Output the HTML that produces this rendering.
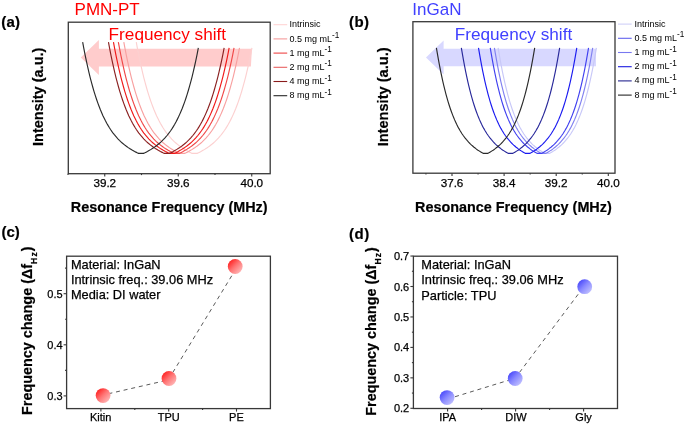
<!DOCTYPE html>
<html><head><meta charset="utf-8"><style>
html,body{margin:0;padding:0;background:#fff;}
body{width:685px;height:427px;overflow:hidden;}
svg{display:block;will-change:transform;}
text{font-family:"Liberation Sans", sans-serif;}
.rg{stroke:#000;stroke-width:0.25px;}
.bd{stroke:#000;stroke-width:0.2px;}
</style></head><body>
<svg width="685" height="427" viewBox="0 0 685 427">
<rect width="685" height="427" fill="#fff"/>

<path d="M80.8,57.6 L98.9,40.1 L98.9,48.75 L251.9,48.75 L250.9,66.45 L98.9,66.45 L98.9,75.1 Z" fill="#ffcccc"/>
<text x="108.6" y="39.5" font-size="17.2" fill="#ff0000">Frequency shift</text>
<text x="74.6" y="14.8" font-size="17" fill="#ff0000">PMN-PT</text>
<text x="1.2" y="26.7" font-size="15" font-weight="bold" class="bd" letter-spacing="0.3" fill="#000">(a)</text>
<path d="M136.26,42.20 L137.52,48.98 L138.79,55.40 L140.06,61.48 L141.33,67.24 L142.59,72.68 L143.86,77.82 L145.13,82.68 L146.40,87.27 L147.66,91.60 L148.93,95.68 L150.20,99.53 L151.47,103.15 L152.74,106.56 L154.00,109.77 L155.27,112.79 L156.54,115.64 L157.81,118.31 L159.07,120.82 L160.34,123.19 L161.61,125.41 L162.88,127.50 L164.14,129.46 L165.41,131.31 L166.68,133.04 L167.95,134.68 L169.21,136.22 L170.48,137.67 L171.75,139.04 L173.02,140.33 L174.28,141.55 L175.55,142.71 L176.82,143.80 L178.09,144.83 L179.35,145.82 L180.62,146.75 L181.89,147.64 L183.16,148.48 L184.43,149.28 L185.69,150.05 L186.96,150.77 L188.23,151.47 L189.50,152.13 L190.76,152.76 L192.03,153.35 L197.23,153.35 L198.47,152.77 L199.72,152.15 L200.96,151.51 L202.20,150.83 L203.45,150.12 L204.69,149.37 L205.93,148.59 L207.18,147.77 L208.42,146.90 L209.67,146.00 L210.91,145.04 L212.15,144.04 L213.40,142.98 L214.64,141.87 L215.88,140.69 L217.13,139.44 L218.37,138.12 L219.61,136.73 L220.86,135.25 L222.10,133.68 L223.34,132.01 L224.59,130.25 L225.83,128.37 L227.07,126.38 L228.32,124.26 L229.56,122.01 L230.80,119.62 L232.05,117.08 L233.29,114.38 L234.53,111.52 L235.78,108.48 L237.02,105.25 L238.27,101.83 L239.51,98.19 L240.75,94.34 L242.00,90.26 L243.24,85.94 L244.48,81.37 L245.73,76.53 L246.97,71.41 L248.21,66.00 L249.46,60.29 L250.70,54.26 L251.94,47.90" fill="none" stroke="#fcd0d0" stroke-width="1.15"/>
<path d="M123.81,42.20 L125.07,48.98 L126.34,55.40 L127.61,61.48 L128.88,67.24 L130.14,72.68 L131.41,77.82 L132.68,82.68 L133.95,87.27 L135.21,91.60 L136.48,95.68 L137.75,99.53 L139.02,103.15 L140.29,106.56 L141.55,109.77 L142.82,112.79 L144.09,115.64 L145.36,118.31 L146.62,120.82 L147.89,123.19 L149.16,125.41 L150.43,127.50 L151.69,129.46 L152.96,131.31 L154.23,133.04 L155.50,134.68 L156.76,136.22 L158.03,137.67 L159.30,139.04 L160.57,140.33 L161.83,141.55 L163.10,142.71 L164.37,143.80 L165.64,144.83 L166.90,145.82 L168.17,146.75 L169.44,147.64 L170.71,148.48 L171.98,149.28 L173.24,150.05 L174.51,150.77 L175.78,151.47 L177.05,152.13 L178.31,152.76 L179.58,153.35 L184.78,153.35 L186.02,152.77 L187.27,152.15 L188.51,151.51 L189.75,150.83 L191.00,150.12 L192.24,149.37 L193.48,148.59 L194.73,147.77 L195.97,146.90 L197.22,146.00 L198.46,145.04 L199.70,144.04 L200.95,142.98 L202.19,141.87 L203.43,140.69 L204.68,139.44 L205.92,138.12 L207.16,136.73 L208.41,135.25 L209.65,133.68 L210.89,132.01 L212.14,130.25 L213.38,128.37 L214.62,126.38 L215.87,124.26 L217.11,122.01 L218.35,119.62 L219.60,117.08 L220.84,114.38 L222.08,111.52 L223.33,108.48 L224.57,105.25 L225.82,101.83 L227.06,98.19 L228.30,94.34 L229.55,90.26 L230.79,85.94 L232.03,81.37 L233.28,76.53 L234.52,71.41 L235.76,66.00 L237.01,60.29 L238.25,54.26 L239.49,47.90" fill="none" stroke="#f8a0a0" stroke-width="1.15"/>
<path d="M118.36,42.20 L119.62,48.98 L120.89,55.40 L122.16,61.48 L123.43,67.24 L124.69,72.68 L125.96,77.82 L127.23,82.68 L128.50,87.27 L129.76,91.60 L131.03,95.68 L132.30,99.53 L133.57,103.15 L134.84,106.56 L136.10,109.77 L137.37,112.79 L138.64,115.64 L139.91,118.31 L141.17,120.82 L142.44,123.19 L143.71,125.41 L144.98,127.50 L146.24,129.46 L147.51,131.31 L148.78,133.04 L150.05,134.68 L151.31,136.22 L152.58,137.67 L153.85,139.04 L155.12,140.33 L156.38,141.55 L157.65,142.71 L158.92,143.80 L160.19,144.83 L161.45,145.82 L162.72,146.75 L163.99,147.64 L165.26,148.48 L166.53,149.28 L167.79,150.05 L169.06,150.77 L170.33,151.47 L171.60,152.13 L172.86,152.76 L174.13,153.35 L179.33,153.35 L180.57,152.77 L181.82,152.15 L183.06,151.51 L184.30,150.83 L185.55,150.12 L186.79,149.37 L188.03,148.59 L189.28,147.77 L190.52,146.90 L191.77,146.00 L193.01,145.04 L194.25,144.04 L195.50,142.98 L196.74,141.87 L197.98,140.69 L199.23,139.44 L200.47,138.12 L201.71,136.73 L202.96,135.25 L204.20,133.68 L205.44,132.01 L206.69,130.25 L207.93,128.37 L209.17,126.38 L210.42,124.26 L211.66,122.01 L212.90,119.62 L214.15,117.08 L215.39,114.38 L216.63,111.52 L217.88,108.48 L219.12,105.25 L220.37,101.83 L221.61,98.19 L222.85,94.34 L224.10,90.26 L225.34,85.94 L226.58,81.37 L227.83,76.53 L229.07,71.41 L230.31,66.00 L231.56,60.29 L232.80,54.26 L234.04,47.90" fill="none" stroke="#f04848" stroke-width="1.15"/>
<path d="M113.46,42.20 L114.72,48.98 L115.99,55.40 L117.26,61.48 L118.53,67.24 L119.79,72.68 L121.06,77.82 L122.33,82.68 L123.60,87.27 L124.86,91.60 L126.13,95.68 L127.40,99.53 L128.67,103.15 L129.94,106.56 L131.20,109.77 L132.47,112.79 L133.74,115.64 L135.01,118.31 L136.27,120.82 L137.54,123.19 L138.81,125.41 L140.08,127.50 L141.34,129.46 L142.61,131.31 L143.88,133.04 L145.15,134.68 L146.41,136.22 L147.68,137.67 L148.95,139.04 L150.22,140.33 L151.48,141.55 L152.75,142.71 L154.02,143.80 L155.29,144.83 L156.55,145.82 L157.82,146.75 L159.09,147.64 L160.36,148.48 L161.63,149.28 L162.89,150.05 L164.16,150.77 L165.43,151.47 L166.70,152.13 L167.96,152.76 L169.23,153.35 L174.43,153.35 L175.67,152.77 L176.92,152.15 L178.16,151.51 L179.40,150.83 L180.65,150.12 L181.89,149.37 L183.13,148.59 L184.38,147.77 L185.62,146.90 L186.87,146.00 L188.11,145.04 L189.35,144.04 L190.60,142.98 L191.84,141.87 L193.08,140.69 L194.33,139.44 L195.57,138.12 L196.81,136.73 L198.06,135.25 L199.30,133.68 L200.54,132.01 L201.79,130.25 L203.03,128.37 L204.27,126.38 L205.52,124.26 L206.76,122.01 L208.00,119.62 L209.25,117.08 L210.49,114.38 L211.73,111.52 L212.98,108.48 L214.22,105.25 L215.47,101.83 L216.71,98.19 L217.95,94.34 L219.20,90.26 L220.44,85.94 L221.68,81.37 L222.93,76.53 L224.17,71.41 L225.41,66.00 L226.66,60.29 L227.90,54.26 L229.14,47.90" fill="none" stroke="#f01818" stroke-width="1.15"/>
<path d="M108.46,42.20 L109.72,48.98 L110.99,55.40 L112.26,61.48 L113.53,67.24 L114.79,72.68 L116.06,77.82 L117.33,82.68 L118.60,87.27 L119.86,91.60 L121.13,95.68 L122.40,99.53 L123.67,103.15 L124.94,106.56 L126.20,109.77 L127.47,112.79 L128.74,115.64 L130.01,118.31 L131.27,120.82 L132.54,123.19 L133.81,125.41 L135.08,127.50 L136.34,129.46 L137.61,131.31 L138.88,133.04 L140.15,134.68 L141.41,136.22 L142.68,137.67 L143.95,139.04 L145.22,140.33 L146.48,141.55 L147.75,142.71 L149.02,143.80 L150.29,144.83 L151.55,145.82 L152.82,146.75 L154.09,147.64 L155.36,148.48 L156.63,149.28 L157.89,150.05 L159.16,150.77 L160.43,151.47 L161.70,152.13 L162.96,152.76 L164.23,153.35 L169.43,153.35 L170.67,152.77 L171.92,152.15 L173.16,151.51 L174.40,150.83 L175.65,150.12 L176.89,149.37 L178.13,148.59 L179.38,147.77 L180.62,146.90 L181.87,146.00 L183.11,145.04 L184.35,144.04 L185.60,142.98 L186.84,141.87 L188.08,140.69 L189.33,139.44 L190.57,138.12 L191.81,136.73 L193.06,135.25 L194.30,133.68 L195.54,132.01 L196.79,130.25 L198.03,128.37 L199.27,126.38 L200.52,124.26 L201.76,122.01 L203.00,119.62 L204.25,117.08 L205.49,114.38 L206.73,111.52 L207.98,108.48 L209.22,105.25 L210.47,101.83 L211.71,98.19 L212.95,94.34 L214.20,90.26 L215.44,85.94 L216.68,81.37 L217.93,76.53 L219.17,71.41 L220.41,66.00 L221.66,60.29 L222.90,54.26 L224.14,47.90" fill="none" stroke="#8a2020" stroke-width="1.15"/>
<path d="M82.66,42.20 L83.92,48.98 L85.19,55.40 L86.46,61.48 L87.73,67.24 L88.99,72.68 L90.26,77.82 L91.53,82.68 L92.80,87.27 L94.06,91.60 L95.33,95.68 L96.60,99.53 L97.87,103.15 L99.14,106.56 L100.40,109.77 L101.67,112.79 L102.94,115.64 L104.21,118.31 L105.47,120.82 L106.74,123.19 L108.01,125.41 L109.28,127.50 L110.54,129.46 L111.81,131.31 L113.08,133.04 L114.35,134.68 L115.61,136.22 L116.88,137.67 L118.15,139.04 L119.42,140.33 L120.68,141.55 L121.95,142.71 L123.22,143.80 L124.49,144.83 L125.75,145.82 L127.02,146.75 L128.29,147.64 L129.56,148.48 L130.83,149.28 L132.09,150.05 L133.36,150.77 L134.63,151.47 L135.90,152.13 L137.16,152.76 L138.43,153.35 L143.63,153.35 L144.87,152.77 L146.12,152.15 L147.36,151.51 L148.60,150.83 L149.85,150.12 L151.09,149.37 L152.33,148.59 L153.58,147.77 L154.82,146.90 L156.07,146.00 L157.31,145.04 L158.55,144.04 L159.80,142.98 L161.04,141.87 L162.28,140.69 L163.53,139.44 L164.77,138.12 L166.01,136.73 L167.26,135.25 L168.50,133.68 L169.74,132.01 L170.99,130.25 L172.23,128.37 L173.47,126.38 L174.72,124.26 L175.96,122.01 L177.20,119.62 L178.45,117.08 L179.69,114.38 L180.93,111.52 L182.18,108.48 L183.42,105.25 L184.67,101.83 L185.91,98.19 L187.15,94.34 L188.40,90.26 L189.64,85.94 L190.88,81.37 L192.13,76.53 L193.37,71.41 L194.61,66.00 L195.86,60.29 L197.10,54.26 L198.34,47.90" fill="none" stroke="#2a2a2a" stroke-width="1.15"/>
<rect x="68.3" y="22.2" width="201.89999999999998" height="151.5" fill="none" stroke="#383838" stroke-width="1.3"/>
<line x1="68.00" y1="173.7" x2="68.00" y2="175.1" stroke="#383838" stroke-width="1.1"/>
<line x1="104.75" y1="173.7" x2="104.75" y2="176.5" stroke="#383838" stroke-width="1.1"/>
<line x1="141.50" y1="173.7" x2="141.50" y2="175.1" stroke="#383838" stroke-width="1.1"/>
<line x1="178.25" y1="173.7" x2="178.25" y2="176.5" stroke="#383838" stroke-width="1.1"/>
<line x1="215.00" y1="173.7" x2="215.00" y2="175.1" stroke="#383838" stroke-width="1.1"/>
<line x1="251.75" y1="173.7" x2="251.75" y2="176.5" stroke="#383838" stroke-width="1.1"/>
<text class="rg" x="104.75" y="187.2" font-size="11.7" text-anchor="middle" fill="#000">39.2</text>
<text class="rg" x="178.25" y="187.2" font-size="11.7" text-anchor="middle" fill="#000">39.6</text>
<text class="rg" x="251.75" y="187.2" font-size="11.7" text-anchor="middle" fill="#000">40.0</text>
<text x="169.2" y="211.6" font-size="14.4" font-weight="bold" text-anchor="middle" fill="#000" class="bd">Resonance Frequency (MHz)</text>
<text transform="translate(42.7,96.8) rotate(-90)" font-size="14.5" font-weight="bold" text-anchor="middle" fill="#000" class="bd">Intensity (a.u.)</text>
<line x1="273.5" y1="24.70" x2="287.2" y2="24.70" stroke="#ffd4d4" stroke-width="1.1"/>
<text x="289.4" y="27.30" font-size="9" fill="#000">Intrinsic</text>
<line x1="273.5" y1="38.90" x2="287.2" y2="38.90" stroke="#f59a9a" stroke-width="1.1"/>
<text x="289.4" y="41.50" font-size="9" fill="#000">0.5 mg mL<tspan font-size="8.2" dy="-3.5">-1</tspan></text>
<line x1="273.5" y1="53.10" x2="287.2" y2="53.10" stroke="#ee4444" stroke-width="1.1"/>
<text x="289.4" y="55.70" font-size="9" fill="#000">1 mg mL<tspan font-size="8.2" dy="-3.5">-1</tspan></text>
<line x1="273.5" y1="67.30" x2="287.2" y2="67.30" stroke="#e86060" stroke-width="1.1"/>
<text x="289.4" y="69.90" font-size="9" fill="#000">2 mg mL<tspan font-size="8.2" dy="-3.5">-1</tspan></text>
<line x1="273.5" y1="81.50" x2="287.2" y2="81.50" stroke="#8a1c1c" stroke-width="1.1"/>
<text x="289.4" y="84.10" font-size="9" fill="#000">4 mg mL<tspan font-size="8.2" dy="-3.5">-1</tspan></text>
<line x1="273.5" y1="95.70" x2="287.2" y2="95.70" stroke="#262626" stroke-width="1.1"/>
<text x="289.4" y="98.30" font-size="9" fill="#000">8 mg mL<tspan font-size="8.2" dy="-3.5">-1</tspan></text>
<path d="M426.0,57.5 L443.6,40.5 L443.6,48.8 L596.0,48.8 L596.0,66.2 L443.6,66.2 L443.6,74.5 Z" fill="#d8d8ff"/>
<text x="454.7" y="39.7" font-size="17.2" fill="#4040ff">Frequency shift</text>
<text x="412.3" y="14.8" font-size="17" fill="#4040ff">InGaN</text>
<text x="348.9" y="26.6" font-size="15" font-weight="bold" class="bd" letter-spacing="0.5" fill="#000">(b)</text>
<path d="M498.10,47.80 L499.17,54.17 L500.23,60.21 L501.30,65.93 L502.37,71.35 L503.43,76.47 L504.50,81.32 L505.56,85.90 L506.63,90.23 L507.70,94.32 L508.76,98.18 L509.83,101.82 L510.90,105.25 L511.96,108.48 L513.03,111.52 L514.10,114.39 L515.16,117.09 L516.23,119.64 L517.30,122.03 L518.36,124.28 L519.43,126.40 L520.49,128.40 L521.56,130.28 L522.63,132.04 L523.69,133.71 L524.76,135.28 L525.83,136.76 L526.89,138.16 L527.96,139.48 L529.03,140.73 L530.09,141.91 L531.16,143.03 L532.22,144.08 L533.29,145.09 L534.36,146.04 L535.42,146.95 L536.49,147.81 L537.56,148.64 L538.62,149.42 L539.69,150.17 L540.76,150.88 L541.82,151.56 L542.89,152.20 L543.96,152.82 L545.02,153.40 L549.48,153.40 L550.54,152.82 L551.61,152.20 L552.68,151.56 L553.74,150.88 L554.81,150.17 L555.88,149.42 L556.94,148.64 L558.01,147.81 L559.08,146.95 L560.14,146.04 L561.21,145.09 L562.28,144.08 L563.34,143.03 L564.41,141.91 L565.47,140.73 L566.54,139.48 L567.61,138.16 L568.67,136.76 L569.74,135.28 L570.81,133.71 L571.87,132.04 L572.94,130.28 L574.01,128.40 L575.07,126.40 L576.14,124.28 L577.20,122.03 L578.27,119.64 L579.34,117.09 L580.40,114.39 L581.47,111.52 L582.54,108.48 L583.60,105.25 L584.67,101.82 L585.74,98.18 L586.80,94.32 L587.87,90.23 L588.94,85.90 L590.00,81.32 L591.07,76.47 L592.13,71.35 L593.20,65.93 L594.27,60.21 L595.33,54.17 L596.40,47.80" fill="none" stroke="#c8c8f8" stroke-width="1.15"/>
<path d="M494.40,47.80 L495.47,54.17 L496.53,60.21 L497.60,65.93 L498.67,71.35 L499.73,76.47 L500.80,81.32 L501.86,85.90 L502.93,90.23 L504.00,94.32 L505.06,98.18 L506.13,101.82 L507.20,105.25 L508.26,108.48 L509.33,111.52 L510.40,114.39 L511.46,117.09 L512.53,119.64 L513.60,122.03 L514.66,124.28 L515.73,126.40 L516.79,128.40 L517.86,130.28 L518.93,132.04 L519.99,133.71 L521.06,135.28 L522.13,136.76 L523.19,138.16 L524.26,139.48 L525.33,140.73 L526.39,141.91 L527.46,143.03 L528.52,144.08 L529.59,145.09 L530.66,146.04 L531.72,146.95 L532.79,147.81 L533.86,148.64 L534.92,149.42 L535.99,150.17 L537.06,150.88 L538.12,151.56 L539.19,152.20 L540.26,152.82 L541.32,153.40 L545.78,153.40 L546.84,152.82 L547.91,152.20 L548.98,151.56 L550.04,150.88 L551.11,150.17 L552.18,149.42 L553.24,148.64 L554.31,147.81 L555.38,146.95 L556.44,146.04 L557.51,145.09 L558.58,144.08 L559.64,143.03 L560.71,141.91 L561.77,140.73 L562.84,139.48 L563.91,138.16 L564.97,136.76 L566.04,135.28 L567.11,133.71 L568.17,132.04 L569.24,130.28 L570.31,128.40 L571.37,126.40 L572.44,124.28 L573.50,122.03 L574.57,119.64 L575.64,117.09 L576.70,114.39 L577.77,111.52 L578.84,108.48 L579.90,105.25 L580.97,101.82 L582.04,98.18 L583.10,94.32 L584.17,90.23 L585.24,85.90 L586.30,81.32 L587.37,76.47 L588.43,71.35 L589.50,65.93 L590.57,60.21 L591.63,54.17 L592.70,47.80" fill="none" stroke="#8080f0" stroke-width="1.15"/>
<path d="M490.25,47.80 L491.32,54.17 L492.38,60.21 L493.45,65.93 L494.52,71.35 L495.58,76.47 L496.65,81.32 L497.71,85.90 L498.78,90.23 L499.85,94.32 L500.91,98.18 L501.98,101.82 L503.05,105.25 L504.11,108.48 L505.18,111.52 L506.25,114.39 L507.31,117.09 L508.38,119.64 L509.45,122.03 L510.51,124.28 L511.58,126.40 L512.64,128.40 L513.71,130.28 L514.78,132.04 L515.84,133.71 L516.91,135.28 L517.98,136.76 L519.04,138.16 L520.11,139.48 L521.18,140.73 L522.24,141.91 L523.31,143.03 L524.37,144.08 L525.44,145.09 L526.51,146.04 L527.57,146.95 L528.64,147.81 L529.71,148.64 L530.77,149.42 L531.84,150.17 L532.91,150.88 L533.97,151.56 L535.04,152.20 L536.11,152.82 L537.17,153.40 L541.63,153.40 L542.69,152.82 L543.76,152.20 L544.83,151.56 L545.89,150.88 L546.96,150.17 L548.03,149.42 L549.09,148.64 L550.16,147.81 L551.23,146.95 L552.29,146.04 L553.36,145.09 L554.43,144.08 L555.49,143.03 L556.56,141.91 L557.62,140.73 L558.69,139.48 L559.76,138.16 L560.82,136.76 L561.89,135.28 L562.96,133.71 L564.02,132.04 L565.09,130.28 L566.16,128.40 L567.22,126.40 L568.29,124.28 L569.35,122.03 L570.42,119.64 L571.49,117.09 L572.55,114.39 L573.62,111.52 L574.69,108.48 L575.75,105.25 L576.82,101.82 L577.89,98.18 L578.95,94.32 L580.02,90.23 L581.09,85.90 L582.15,81.32 L583.22,76.47 L584.28,71.35 L585.35,65.93 L586.42,60.21 L587.48,54.17 L588.55,47.80" fill="none" stroke="#4040f0" stroke-width="1.15"/>
<path d="M478.50,47.80 L479.57,54.17 L480.63,60.21 L481.70,65.93 L482.77,71.35 L483.83,76.47 L484.90,81.32 L485.96,85.90 L487.03,90.23 L488.10,94.32 L489.16,98.18 L490.23,101.82 L491.30,105.25 L492.36,108.48 L493.43,111.52 L494.50,114.39 L495.56,117.09 L496.63,119.64 L497.70,122.03 L498.76,124.28 L499.83,126.40 L500.89,128.40 L501.96,130.28 L503.03,132.04 L504.09,133.71 L505.16,135.28 L506.23,136.76 L507.29,138.16 L508.36,139.48 L509.43,140.73 L510.49,141.91 L511.56,143.03 L512.62,144.08 L513.69,145.09 L514.76,146.04 L515.82,146.95 L516.89,147.81 L517.96,148.64 L519.02,149.42 L520.09,150.17 L521.16,150.88 L522.22,151.56 L523.29,152.20 L524.36,152.82 L525.42,153.40 L529.88,153.40 L530.94,152.82 L532.01,152.20 L533.08,151.56 L534.14,150.88 L535.21,150.17 L536.28,149.42 L537.34,148.64 L538.41,147.81 L539.48,146.95 L540.54,146.04 L541.61,145.09 L542.68,144.08 L543.74,143.03 L544.81,141.91 L545.87,140.73 L546.94,139.48 L548.01,138.16 L549.07,136.76 L550.14,135.28 L551.21,133.71 L552.27,132.04 L553.34,130.28 L554.41,128.40 L555.47,126.40 L556.54,124.28 L557.60,122.03 L558.67,119.64 L559.74,117.09 L560.80,114.39 L561.87,111.52 L562.94,108.48 L564.00,105.25 L565.07,101.82 L566.14,98.18 L567.20,94.32 L568.27,90.23 L569.34,85.90 L570.40,81.32 L571.47,76.47 L572.53,71.35 L573.60,65.93 L574.67,60.21 L575.73,54.17 L576.80,47.80" fill="none" stroke="#1a1af0" stroke-width="1.15"/>
<path d="M461.35,47.80 L462.42,54.17 L463.48,60.21 L464.55,65.93 L465.62,71.35 L466.68,76.47 L467.75,81.32 L468.81,85.90 L469.88,90.23 L470.95,94.32 L472.01,98.18 L473.08,101.82 L474.15,105.25 L475.21,108.48 L476.28,111.52 L477.35,114.39 L478.41,117.09 L479.48,119.64 L480.55,122.03 L481.61,124.28 L482.68,126.40 L483.74,128.40 L484.81,130.28 L485.88,132.04 L486.94,133.71 L488.01,135.28 L489.08,136.76 L490.14,138.16 L491.21,139.48 L492.28,140.73 L493.34,141.91 L494.41,143.03 L495.47,144.08 L496.54,145.09 L497.61,146.04 L498.67,146.95 L499.74,147.81 L500.81,148.64 L501.87,149.42 L502.94,150.17 L504.01,150.88 L505.07,151.56 L506.14,152.20 L507.21,152.82 L508.27,153.40 L512.73,153.40 L513.79,152.82 L514.86,152.20 L515.93,151.56 L516.99,150.88 L518.06,150.17 L519.13,149.42 L520.19,148.64 L521.26,147.81 L522.33,146.95 L523.39,146.04 L524.46,145.09 L525.53,144.08 L526.59,143.03 L527.66,141.91 L528.72,140.73 L529.79,139.48 L530.86,138.16 L531.92,136.76 L532.99,135.28 L534.06,133.71 L535.12,132.04 L536.19,130.28 L537.26,128.40 L538.32,126.40 L539.39,124.28 L540.45,122.03 L541.52,119.64 L542.59,117.09 L543.65,114.39 L544.72,111.52 L545.79,108.48 L546.85,105.25 L547.92,101.82 L548.99,98.18 L550.05,94.32 L551.12,90.23 L552.19,85.90 L553.25,81.32 L554.32,76.47 L555.38,71.35 L556.45,65.93 L557.52,60.21 L558.58,54.17 L559.65,47.80" fill="none" stroke="#28289a" stroke-width="1.15"/>
<path d="M436.40,47.80 L437.47,54.17 L438.53,60.21 L439.60,65.93 L440.67,71.35 L441.73,76.47 L442.80,81.32 L443.86,85.90 L444.93,90.23 L446.00,94.32 L447.06,98.18 L448.13,101.82 L449.20,105.25 L450.26,108.48 L451.33,111.52 L452.40,114.39 L453.46,117.09 L454.53,119.64 L455.60,122.03 L456.66,124.28 L457.73,126.40 L458.79,128.40 L459.86,130.28 L460.93,132.04 L461.99,133.71 L463.06,135.28 L464.13,136.76 L465.19,138.16 L466.26,139.48 L467.33,140.73 L468.39,141.91 L469.46,143.03 L470.52,144.08 L471.59,145.09 L472.66,146.04 L473.72,146.95 L474.79,147.81 L475.86,148.64 L476.92,149.42 L477.99,150.17 L479.06,150.88 L480.12,151.56 L481.19,152.20 L482.26,152.82 L483.32,153.40 L487.78,153.40 L488.84,152.82 L489.91,152.20 L490.98,151.56 L492.04,150.88 L493.11,150.17 L494.18,149.42 L495.24,148.64 L496.31,147.81 L497.38,146.95 L498.44,146.04 L499.51,145.09 L500.58,144.08 L501.64,143.03 L502.71,141.91 L503.77,140.73 L504.84,139.48 L505.91,138.16 L506.97,136.76 L508.04,135.28 L509.11,133.71 L510.17,132.04 L511.24,130.28 L512.31,128.40 L513.37,126.40 L514.44,124.28 L515.50,122.03 L516.57,119.64 L517.64,117.09 L518.70,114.39 L519.77,111.52 L520.84,108.48 L521.90,105.25 L522.97,101.82 L524.04,98.18 L525.10,94.32 L526.17,90.23 L527.24,85.90 L528.30,81.32 L529.37,76.47 L530.43,71.35 L531.50,65.93 L532.57,60.21 L533.63,54.17 L534.70,47.80" fill="none" stroke="#2a2a2a" stroke-width="1.15"/>
<rect x="412.9" y="21.7" width="202.10000000000002" height="151.5" fill="none" stroke="#383838" stroke-width="1.3"/>
<line x1="425.95" y1="173.2" x2="425.95" y2="174.6" stroke="#383838" stroke-width="1.1"/>
<line x1="452.00" y1="173.2" x2="452.00" y2="176.0" stroke="#383838" stroke-width="1.1"/>
<line x1="478.05" y1="173.2" x2="478.05" y2="174.6" stroke="#383838" stroke-width="1.1"/>
<line x1="504.10" y1="173.2" x2="504.10" y2="176.0" stroke="#383838" stroke-width="1.1"/>
<line x1="530.15" y1="173.2" x2="530.15" y2="174.6" stroke="#383838" stroke-width="1.1"/>
<line x1="556.20" y1="173.2" x2="556.20" y2="176.0" stroke="#383838" stroke-width="1.1"/>
<line x1="582.25" y1="173.2" x2="582.25" y2="174.6" stroke="#383838" stroke-width="1.1"/>
<line x1="608.30" y1="173.2" x2="608.30" y2="176.0" stroke="#383838" stroke-width="1.1"/>
<text class="rg" x="452.00" y="187.2" font-size="11.7" text-anchor="middle" fill="#000">37.6</text>
<text class="rg" x="504.10" y="187.2" font-size="11.7" text-anchor="middle" fill="#000">38.4</text>
<text class="rg" x="556.20" y="187.2" font-size="11.7" text-anchor="middle" fill="#000">39.2</text>
<text class="rg" x="608.30" y="187.2" font-size="11.7" text-anchor="middle" fill="#000">40.0</text>
<text x="513.4" y="211.6" font-size="14.4" font-weight="bold" text-anchor="middle" fill="#000" class="bd">Resonance Frequency (MHz)</text>
<text transform="translate(387.5,96.9) rotate(-90)" font-size="14.6" font-weight="bold" text-anchor="middle" fill="#000" class="bd">Intensity (a.u.)</text>
<line x1="618" y1="24.10" x2="631.7" y2="24.10" stroke="#d0d0f8" stroke-width="1.1"/>
<text x="634.4" y="26.60" font-size="9" fill="#000">Intrinsic</text>
<line x1="618" y1="38.30" x2="631.7" y2="38.30" stroke="#6262ee" stroke-width="1.1"/>
<text x="634.4" y="40.80" font-size="9" fill="#000">0.5 mg mL<tspan font-size="8.2" dy="-3.5">-1</tspan></text>
<line x1="618" y1="52.50" x2="631.7" y2="52.50" stroke="#7878f0" stroke-width="1.1"/>
<text x="634.4" y="55.00" font-size="9" fill="#000">1 mg mL<tspan font-size="8.2" dy="-3.5">-1</tspan></text>
<line x1="618" y1="66.70" x2="631.7" y2="66.70" stroke="#1a1ae0" stroke-width="1.1"/>
<text x="634.4" y="69.20" font-size="9" fill="#000">2 mg mL<tspan font-size="8.2" dy="-3.5">-1</tspan></text>
<line x1="618" y1="80.90" x2="631.7" y2="80.90" stroke="#25258f" stroke-width="1.1"/>
<text x="634.4" y="83.40" font-size="9" fill="#000">4 mg mL<tspan font-size="8.2" dy="-3.5">-1</tspan></text>
<line x1="618" y1="95.10" x2="631.7" y2="95.10" stroke="#262626" stroke-width="1.1"/>
<text x="634.4" y="97.60" font-size="9" fill="#000">8 mg mL<tspan font-size="8.2" dy="-3.5">-1</tspan></text>
<defs>
<linearGradient id="gr" x1="0.1" y1="0.1" x2="0.95" y2="0.95"><stop offset="0" stop-color="#ff1c1c"/><stop offset="0.45" stop-color="#ff7474"/><stop offset="1" stop-color="#ffc4c4"/></linearGradient>
<linearGradient id="gb" x1="0.1" y1="0.1" x2="0.95" y2="0.95"><stop offset="0" stop-color="#4444fa"/><stop offset="0.45" stop-color="#8a8aff"/><stop offset="1" stop-color="#cacaff"/></linearGradient>
</defs>
<text x="1.4" y="237.0" font-size="15" font-weight="bold" class="bd" fill="#000">(c)</text>
<polyline points="100.8,395.5 168.2,380.0 236.6,267.8" fill="none" stroke="#5a5a5a" stroke-width="1" stroke-dasharray="4,3.8"/>
<circle cx="103.1" cy="395.6" r="7.4" fill="url(#gr)"/>
<circle cx="169.0" cy="378.5" r="7.4" fill="url(#gr)"/>
<circle cx="235.2" cy="266.5" r="7.4" fill="url(#gr)"/>
<rect x="66.6" y="256.2" width="203.79999999999998" height="152.40000000000003" fill="none" stroke="#383838" stroke-width="1.3"/>
<line x1="63.599999999999994" y1="395.90" x2="66.6" y2="395.90" stroke="#383838" stroke-width="1.1"/>
<line x1="65.1" y1="370.35" x2="66.6" y2="370.35" stroke="#383838" stroke-width="1.1"/>
<line x1="63.599999999999994" y1="344.80" x2="66.6" y2="344.80" stroke="#383838" stroke-width="1.1"/>
<line x1="65.1" y1="319.25" x2="66.6" y2="319.25" stroke="#383838" stroke-width="1.1"/>
<line x1="63.599999999999994" y1="293.70" x2="66.6" y2="293.70" stroke="#383838" stroke-width="1.1"/>
<line x1="65.1" y1="268.15" x2="66.6" y2="268.15" stroke="#383838" stroke-width="1.1"/>
<text class="rg" x="62.6" y="399.90" font-size="11" text-anchor="end" fill="#000">0.3</text>
<text class="rg" x="62.6" y="348.80" font-size="11" text-anchor="end" fill="#000">0.4</text>
<text class="rg" x="62.6" y="297.70" font-size="11" text-anchor="end" fill="#000">0.5</text>
<line x1="100.9" y1="408.6" x2="100.9" y2="411.6" stroke="#383838" stroke-width="1.1"/>
<line x1="134.8" y1="408.6" x2="134.8" y2="410.1" stroke="#383838" stroke-width="1.1"/>
<line x1="168.7" y1="408.6" x2="168.7" y2="411.6" stroke="#383838" stroke-width="1.1"/>
<line x1="202.6" y1="408.6" x2="202.6" y2="410.1" stroke="#383838" stroke-width="1.1"/>
<line x1="236.5" y1="408.6" x2="236.5" y2="411.6" stroke="#383838" stroke-width="1.1"/>
<text class="rg" x="100.6" y="420.9" font-size="11" text-anchor="middle" fill="#000">Kitin</text>
<text class="rg" x="168.7" y="420.9" font-size="11" text-anchor="middle" fill="#000">TPU</text>
<text class="rg" x="236.4" y="420.9" font-size="11" text-anchor="middle" fill="#000">PE</text>
<text class="rg" x="70.9" y="268.90" font-size="12.8" fill="#000">Material: InGaN</text>
<text class="rg" x="70.9" y="284.15" font-size="12.8" fill="#000">Intrinsic freq.: 39.06 MHz</text>
<text class="rg" x="70.9" y="299.40" font-size="12.8" fill="#000">Media: DI water</text>
<text transform="translate(31.9,330.7) rotate(-90)" font-size="14.4" font-weight="bold" text-anchor="middle" fill="#000" class="bd">Frequency change (Δf<tspan font-size="8.6" dy="4.6" letter-spacing="1.1">Hz</tspan><tspan dy="-4.6">)</tspan></text>
<text x="348.9" y="239.2" font-size="15" font-weight="bold" class="bd" letter-spacing="0.6" fill="#000">(d)</text>
<polyline points="447.6,399.0 515.1,378.3 583.6,287.0" fill="none" stroke="#5a5a5a" stroke-width="1" stroke-dasharray="4,3.8"/>
<circle cx="447.1" cy="397.6" r="7.4" fill="url(#gb)"/>
<circle cx="515.2" cy="378.5" r="7.4" fill="url(#gb)"/>
<circle cx="584.7" cy="286.7" r="7.4" fill="url(#gb)"/>
<rect x="413.4" y="256.2" width="204.10000000000002" height="152.3" fill="none" stroke="#383838" stroke-width="1.3"/>
<line x1="410.4" y1="408.30" x2="413.4" y2="408.30" stroke="#383838" stroke-width="1.1"/>
<line x1="411.9" y1="393.07" x2="413.4" y2="393.07" stroke="#383838" stroke-width="1.1"/>
<line x1="410.4" y1="377.85" x2="413.4" y2="377.85" stroke="#383838" stroke-width="1.1"/>
<line x1="411.9" y1="362.62" x2="413.4" y2="362.62" stroke="#383838" stroke-width="1.1"/>
<line x1="410.4" y1="347.40" x2="413.4" y2="347.40" stroke="#383838" stroke-width="1.1"/>
<line x1="411.9" y1="332.18" x2="413.4" y2="332.18" stroke="#383838" stroke-width="1.1"/>
<line x1="410.4" y1="316.95" x2="413.4" y2="316.95" stroke="#383838" stroke-width="1.1"/>
<line x1="411.9" y1="301.73" x2="413.4" y2="301.73" stroke="#383838" stroke-width="1.1"/>
<line x1="410.4" y1="286.50" x2="413.4" y2="286.50" stroke="#383838" stroke-width="1.1"/>
<line x1="411.9" y1="271.27" x2="413.4" y2="271.27" stroke="#383838" stroke-width="1.1"/>
<line x1="410.4" y1="256.05" x2="413.4" y2="256.05" stroke="#383838" stroke-width="1.1"/>
<text class="rg" x="409.2" y="412.30" font-size="11" text-anchor="end" fill="#000">0.2</text>
<text class="rg" x="409.2" y="381.85" font-size="11" text-anchor="end" fill="#000">0.3</text>
<text class="rg" x="409.2" y="351.40" font-size="11" text-anchor="end" fill="#000">0.4</text>
<text class="rg" x="409.2" y="320.95" font-size="11" text-anchor="end" fill="#000">0.5</text>
<text class="rg" x="409.2" y="290.50" font-size="11" text-anchor="end" fill="#000">0.6</text>
<text class="rg" x="409.2" y="260.05" font-size="11" text-anchor="end" fill="#000">0.7</text>
<line x1="447.6" y1="408.5" x2="447.6" y2="411.5" stroke="#383838" stroke-width="1.1"/>
<line x1="481.6" y1="408.5" x2="481.6" y2="410.0" stroke="#383838" stroke-width="1.1"/>
<line x1="515.6" y1="408.5" x2="515.6" y2="411.5" stroke="#383838" stroke-width="1.1"/>
<line x1="549.6" y1="408.5" x2="549.6" y2="410.0" stroke="#383838" stroke-width="1.1"/>
<line x1="583.6" y1="408.5" x2="583.6" y2="411.5" stroke="#383838" stroke-width="1.1"/>
<text class="rg" x="447.6" y="421.2" font-size="11" text-anchor="middle" fill="#000">IPA</text>
<text class="rg" x="516.0" y="421.2" font-size="11" text-anchor="middle" fill="#000">DIW</text>
<text class="rg" x="583.6" y="421.2" font-size="11" text-anchor="middle" fill="#000">Gly</text>
<text class="rg" x="421.3" y="268.90" font-size="12.8" fill="#000">Material: InGaN</text>
<text class="rg" x="421.3" y="284.35" font-size="12.8" fill="#000">Intrinsic freq.: 39.06 MHz</text>
<text class="rg" x="421.3" y="299.80" font-size="12.8" fill="#000">Particle: TPU</text>
<text transform="translate(376.4,331.4) rotate(-90)" font-size="14.4" font-weight="bold" text-anchor="middle" fill="#000" class="bd">Frequency change (Δf<tspan font-size="8.6" dy="4.6" letter-spacing="1.1">Hz</tspan><tspan dy="-4.6">)</tspan></text>
</svg></body></html>
